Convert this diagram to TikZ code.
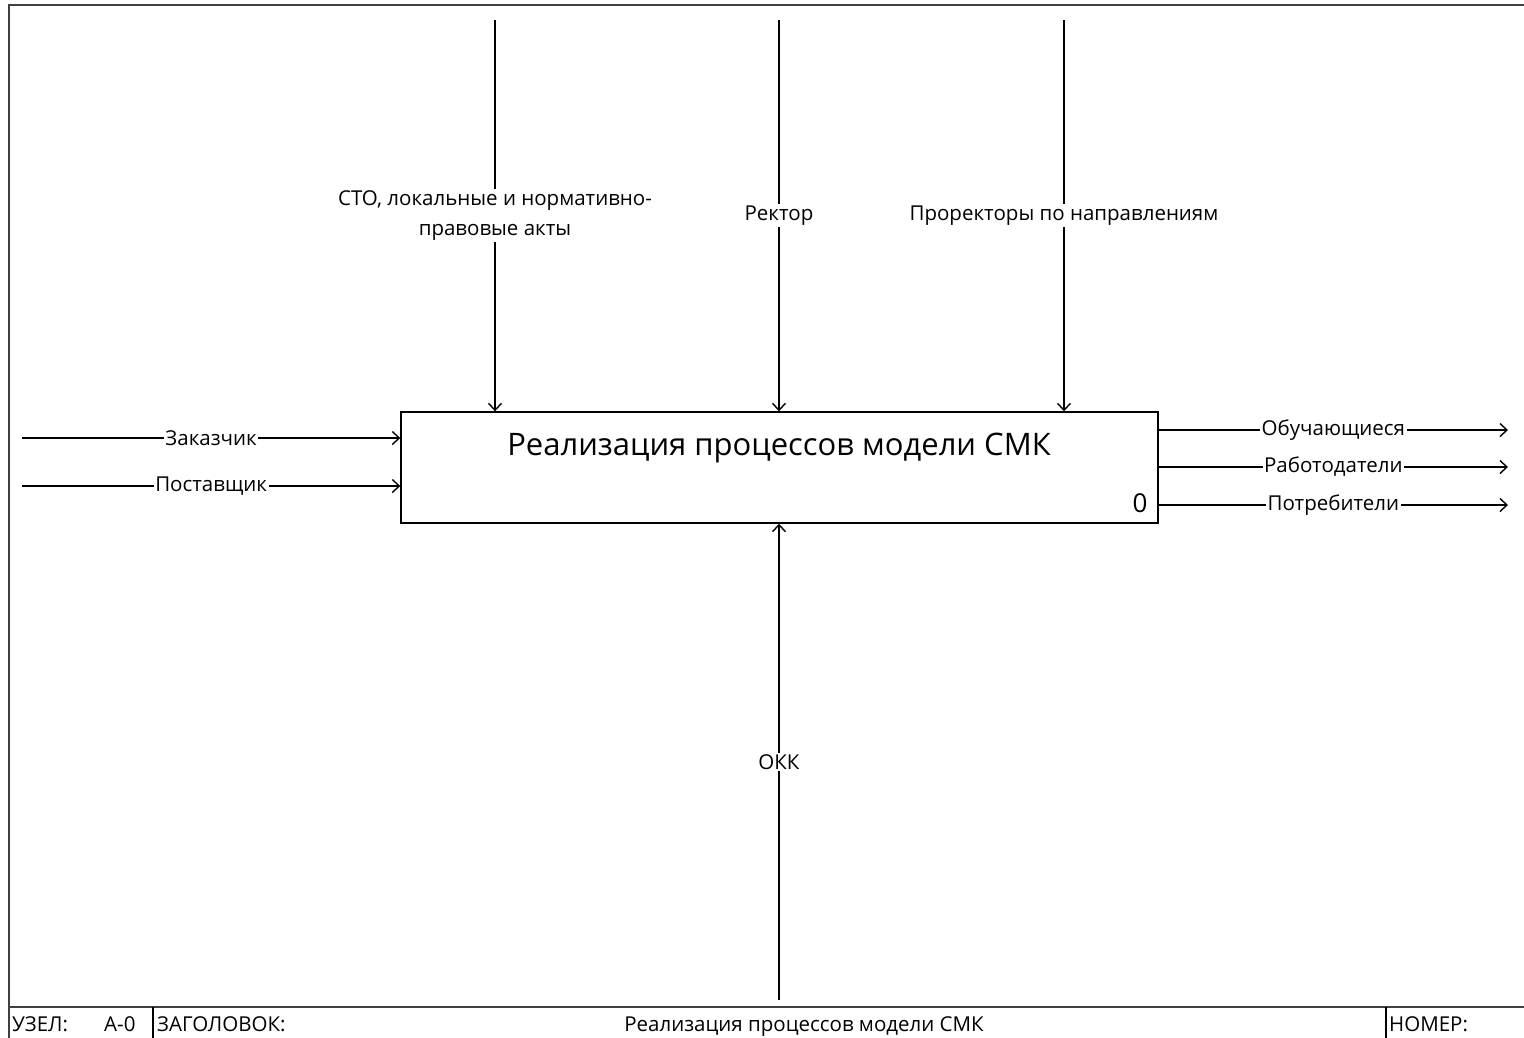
\documentclass[tikz,border=0pt]{standalone}
\usepackage{fontspec}
\setmainfont{Open Sans}
\usetikzlibrary{arrows.meta}
\begin{document}
\begin{tikzpicture}[x=1pt,y=-1pt,
  frame/.style={draw=black!75, line width=2.5pt},
  conn/.style={line width=1.4pt, -{Straight Barb[length=7pt,width=13pt,line width=1.4pt]}},
  lbl/.style={fill=white, inner sep=1.5pt, font=\fontsize{20.5}{30}\selectfont, align=center},
  foot/.style={inner sep=0pt, font=\fontsize{20.5}{24}\selectfont},
  funcbox/.style={draw, line width=1.4pt, minimum width=757pt, minimum height=111pt, inner sep=0pt}]
\useasboundingbox (0,0) rectangle (1524,1037);
\clip (0,0) rectangle (1524,1037);
% outer frame
\draw[frame] (9,5) rectangle (1540,1060);
\draw[frame] (9,1007) -- (1540,1007);
\draw[line width=1.4pt] (153,1007) -- (153,1040);
\draw[line width=1.4pt] (1386,1007) -- (1386,1040);
\node[foot, anchor=base west] (fn1) at (12,1031) {УЗЕЛ:};
\node[foot, anchor=base west] (fn2) at (104,1031) {А-0};
\node[foot, anchor=base west] (fn3) at (157,1031) {ЗАГОЛОВОК:};
\node[foot, anchor=base] (fn4) at (804,1031) {Реализация процессов модели СМК};
\node[foot, anchor=base west] (fn5) at (1389,1031) {НОМЕР:};
% function box
\node[funcbox] (box) at (779.5,467.5) {};
\node[inner sep=0pt, font=\fontsize{31}{36}\selectfont] (title) at (779,448) {Реализация процессов модели СМК};
\node[inner sep=0pt, font=\fontsize{26}{30}\selectfont] (num) at (1140,503) {0};
% controls
\coordinate (t1) at (495,20);
\coordinate (t2) at (779,20);
\coordinate (t3) at (1064,20);
\draw[conn] (t1) -- node[lbl] (l1) {СТО, локальные и нормативно-\\правовые акты} (t1 |- box.north);
\draw[conn] (t2) -- node[lbl] (l2) {Ректор} (t2 |- box.north);
\draw[conn] (t3) -- node[lbl] (l3) {Проректоры по направлениям} (t3 |- box.north);
% mechanism
\coordinate (m1) at (779,1000);
\draw[conn] (m1) -- node[lbl] (l4) {ОКК} (m1 |- box.south);
% inputs
\coordinate (i1) at (22,438);
\coordinate (i2) at (22,486);
\draw[conn] (i1) -- node[lbl] (l5) {Заказчик} (i1 -| box.west);
\draw[conn] (i2) -- node[lbl] (l6) {Поставщик} (i2 -| box.west);
% outputs
\coordinate (o1) at (1508,430);
\coordinate (o2) at (1508,467);
\coordinate (o3) at (1508,505);
\draw[conn] (o1 -| box.east) -- node[lbl] (l7) {Обучающиеся} (o1);
\draw[conn] (o2 -| box.east) -- node[lbl] (l8) {Работодатели} (o2);
\draw[conn] (o3 -| box.east) -- node[lbl] (l9) {Потребители} (o3);
\end{tikzpicture}
\end{document}
